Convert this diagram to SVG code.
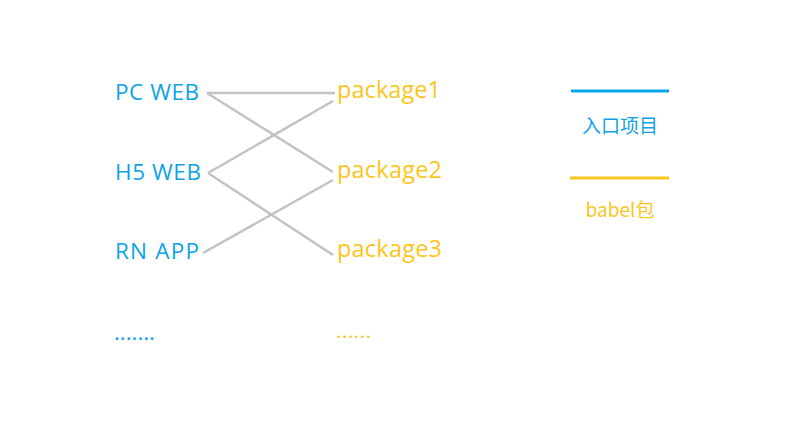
<svg xmlns="http://www.w3.org/2000/svg" width="785" height="441" viewBox="0 0 785 441">
<style>
.b{fill:#0ea2e8;font-family:"Open Sans","Noto Sans CJK SC",sans-serif;font-size:22.5px}
.y{fill:#fcc51c;font-family:"Open Sans","Noto Sans CJK SC",sans-serif;font-size:23.5px}
.lg{font-family:"Noto Sans CJK SC","Open Sans",sans-serif;font-size:19px;text-anchor:middle}
.c{stroke:#c3c3c3;stroke-width:2.5;fill:none}
</style>
<rect width="785" height="441" fill="#fff"/>
<g id="connectors">
<line class="c" x1="207" y1="93" x2="335" y2="93"/>
<line class="c" x1="207" y1="93" x2="333" y2="172"/>
<line class="c" x1="208" y1="173" x2="333" y2="101"/>
<line class="c" x1="208" y1="173" x2="333" y2="255"/>
<line class="c" x1="203" y1="253" x2="333" y2="180"/>
</g>
<g id="pcweb"><text class="b" x="115" y="100" textLength="84">PC WEB</text></g>
<g id="h5web"><text class="b" x="115" y="180" textLength="86">H5 WEB</text></g>
<g id="rnapp"><text class="b" x="115" y="259" textLength="84">RN APP</text></g>
<g id="more-left"><text class="b" x="114" y="340" textLength="41">.......</text></g>
<g id="package1"><text class="y" x="337" y="98" textLength="104">package1</text></g>
<g id="package2"><text class="y" x="337" y="178" textLength="105">package2</text></g>
<g id="package3"><text class="y" x="337" y="257" textLength="105">package3</text></g>
<g id="more-right"><text class="y" x="336" y="338" style="font-size:20px" textLength="35">......</text></g>
<g id="legend">
<line x1="571" y1="91" x2="669" y2="91" stroke="#0aa5e9" stroke-width="3"/>
<text class="lg" x="620" y="133" fill="#0ea2e8">入口项目</text>
<line x1="570" y1="178" x2="669" y2="178" stroke="#fcc51c" stroke-width="3"/>
<text class="lg" x="620" y="217" fill="#fcc51c">babel包</text>
</g>
</svg>
